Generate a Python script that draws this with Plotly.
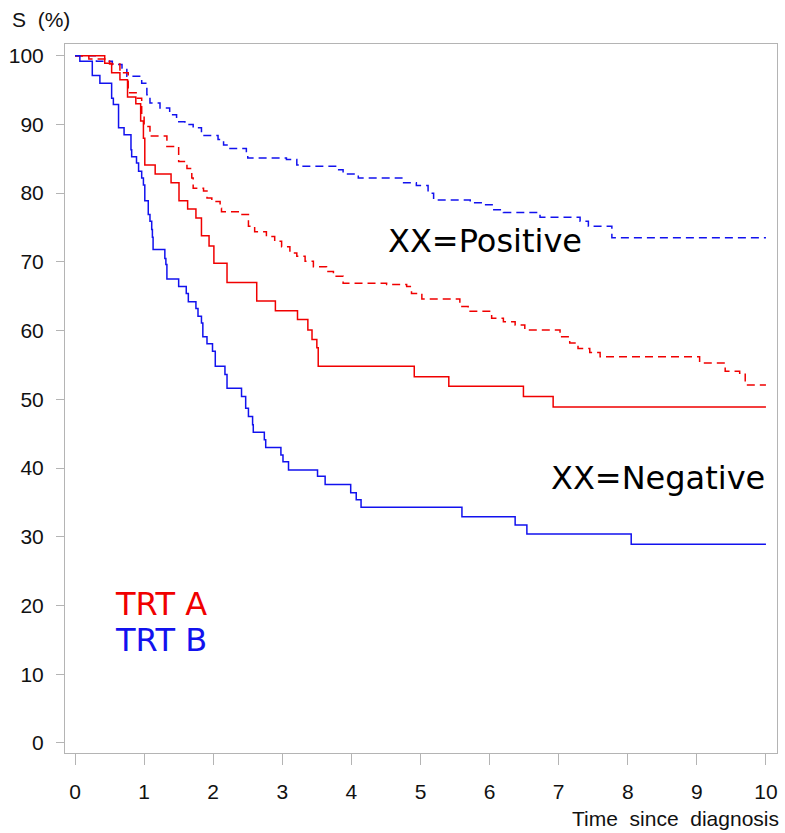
import plotly.graph_objects as go

# Kaplan-Meier step curves (time, survival %)
t_a_neg = [0, 0.43, 0.53, 0.65, 0.76, 0.88, 0.95, 0.99, 1.01, 1.16, 1.39, 1.505, 1.63, 1.75, 1.83, 1.94,
           2.01, 2.20, 2.63, 2.90, 3.22, 3.37, 3.43, 3.50, 3.52, 4.91, 5.41, 6.49, 6.92, 10]
s_a_neg = [100, 98.9, 97.5, 96.5, 94.0, 93.0, 90.5, 88.0, 84.1, 82.8, 81.5, 78.9, 77.7, 76.4, 73.8, 72.3,
           69.8, 67.0, 64.3, 62.9, 61.6, 60.1, 58.7, 57.5, 54.8, 53.3, 51.9, 50.4, 48.9, 48.9]

t_a_pos = [0, 0.2, 0.5, 0.65, 0.77, 0.9, 0.965, 1.0, 1.085, 1.33, 1.50, 1.62, 1.69, 1.71, 1.86, 1.91,
           1.98, 2.10, 2.12, 2.39, 2.51, 2.60, 2.77, 2.89, 2.99, 3.11, 3.21, 3.33, 3.45, 3.64, 3.74, 3.88,
           4.51, 4.80, 4.87, 5.02, 5.57, 5.69, 6.03, 6.20, 6.37, 6.51, 7.02, 7.16, 7.28, 7.45, 7.60,
           9.04, 9.41, 9.62, 9.70, 10]
s_a_pos = [100, 99.5, 98.8, 97.5, 94.6, 93.8, 91.2, 89.7, 88.3, 86.8, 84.6, 83.6, 82.2, 80.7, 80.3, 79.3,
           78.8, 77.8, 77.3, 76.9, 75.2, 74.4, 73.7, 73.0, 72.2, 71.3, 70.8, 70.1, 69.3, 68.6, 67.9, 66.9,
           66.7, 66.4, 65.4, 64.6, 63.5, 62.8, 61.8, 61.3, 60.8, 60.1, 59.1, 58.2, 57.4, 56.8, 56.2,
           55.3, 54.1, 53.8, 52.1, 52.1]

t_b_pos = [0, 0.31, 0.54, 0.68, 0.75, 0.965, 1.04, 1.085, 1.23, 1.37, 1.47, 1.59, 1.71, 1.83, 2.07, 2.15,
           2.20, 2.48, 2.50, 3.06, 3.21, 3.25, 3.79, 3.88, 4.10, 4.73, 4.94, 5.11, 5.19, 5.72, 5.93,
           6.05, 6.20, 6.73, 7.31, 7.43, 7.77, 10]
s_b_pos = [100, 99.2, 98.7, 98.2, 97.0, 96.0, 94.3, 93.1, 92.4, 91.4, 90.4, 90.0, 89.5, 88.4, 87.8, 87.0,
           86.5, 85.8, 85.1, 84.9, 84.1, 83.9, 83.4, 82.8, 82.2, 81.5, 81.1, 80.0, 79.0, 78.6, 78.3,
           77.6, 77.2, 76.5, 75.9, 75.2, 73.5, 73.5]

t_b_neg = [0, 0.07, 0.25, 0.36, 0.53, 0.555, 0.63, 0.71, 0.81, 0.82, 0.89, 0.92, 0.965, 0.99, 1.01, 1.06,
           1.085, 1.11, 1.12, 1.13, 1.30, 1.315, 1.33, 1.50, 1.61, 1.64, 1.75, 1.78, 1.83, 1.85, 1.91,
           1.99, 2.03, 2.17, 2.20, 2.41, 2.47, 2.51, 2.57, 2.58, 2.74, 2.76, 2.98, 3.01, 3.09, 3.51,
           3.62, 3.99, 4.07, 4.14, 5.60, 6.37, 6.54, 8.05, 10]
s_b_neg = [100, 99.2, 97.1, 96.0, 93.8, 92.9, 89.5, 88.5, 86.3, 85.3, 84.4, 83.2, 82.2, 81.2, 78.9, 76.9,
           75.9, 74.7, 73.6, 71.8, 70.5, 69.6, 67.5, 66.4, 65.4, 64.2, 63.2, 62.1, 61.1, 59.1, 58.1,
           57.0, 54.8, 53.6, 51.6, 50.4, 48.7, 47.5, 46.3, 45.2, 44.1, 43.0, 41.9, 40.9, 39.7, 38.8,
           37.6, 36.4, 35.4, 34.3, 32.9, 31.7, 30.4, 28.9, 28.9]

x_ticks = list(range(0, 11))
y_ticks = list(range(0, 101, 10))

RED = "#f00000"
BLUE = "#1212ee"

fig = go.Figure()
series = [
    (t_b_pos, s_b_pos, BLUE, "8px,5px"),
    (t_a_pos, s_a_pos, RED, "8px,5px"),
    (t_a_neg, s_a_neg, RED, "solid"),
    (t_b_neg, s_b_neg, BLUE, "solid"),
]
for t, s, c, d in series:
    fig.add_trace(go.Scatter(x=t, y=s, mode="lines", line=dict(color=c, width=1.5, dash=d, shape="hv"),
                             showlegend=False, hoverinfo="skip"))

tick_font = dict(family="Liberation Sans Narrow, Liberation Sans, Arial", size=21, color="#111111")
title_font = dict(family="Liberation Sans Narrow, Liberation Sans, Arial", size=21, color="#111111")
label_font = dict(family="DejaVu Sans, Verdana", size=32, color="#000000")

fig.update_layout(
    width=785, height=833,
    margin=dict(l=65, r=8, t=44, b=80),
    plot_bgcolor="white", paper_bgcolor="white",
    xaxis=dict(range=[-0.145, 10.16], tickvals=x_ticks, ticks="outside", ticklen=11, tickcolor="#b4b4b4",
               showgrid=False, zeroline=False, showline=True, linecolor="#b4b4b4", linewidth=1, mirror=True,
               tickfont=tick_font, ticklabelstandoff=9),
    yaxis=dict(range=[-1.46, 101.7], tickvals=y_ticks, ticks="outside", ticklen=8, tickcolor="#b4b4b4",
               showgrid=False, zeroline=False, showline=True, linecolor="#b4b4b4", linewidth=1, mirror=True,
               tickfont=tick_font, ticklabelstandoff=8),
    annotations=[
        dict(text="S  (%)", xref="paper", yref="paper", x=-0.077, y=1.034, xanchor="left", yanchor="middle",
             showarrow=False, font=title_font),
        dict(text="Time  since  diagnosis", xref="paper", yref="paper", x=1.006, y=-0.0925, xanchor="right",
             yanchor="middle", showarrow=False, font=title_font),
        dict(text="XX=Positive", x=4.5, y=73.1, xanchor="left", yanchor="middle", showarrow=False, font=label_font),
        dict(text="XX=Negative", x=10.01, y=38.6, xanchor="right", yanchor="middle", showarrow=False, font=label_font),
        dict(text="TRT A", x=0.55, y=20.2, xanchor="left", yanchor="middle", showarrow=False,
             font=dict(family="DejaVu Sans, Verdana", size=32, color=RED)),
        dict(text="TRT B", x=0.55, y=15.0, xanchor="left", yanchor="middle", showarrow=False,
             font=dict(family="DejaVu Sans, Verdana", size=32, color=BLUE)),
    ],
)

fig.write_html("out.html")
